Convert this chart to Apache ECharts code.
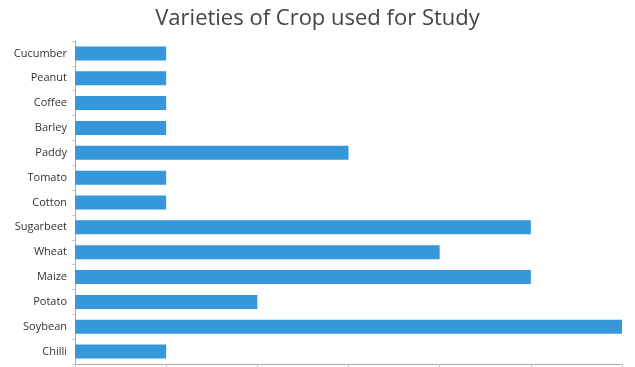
<!DOCTYPE html>
<html><head><meta charset="utf-8">
<script src="https://cdn.jsdelivr.net/npm/echarts@6/dist/echarts.min.js"></script>
<style>html,body{margin:0;padding:0;background:#fff}#c{width:635px;height:367px}</style>
</head><body><div id="c"></div>
<script>
const categories = ["Cucumber","Peanut","Coffee","Barley","Paddy","Tomato","Cotton","Sugarbeet","Wheat","Maize","Potato","Soybean","Chilli"];
const counts = [1,1,1,1,3,1,1,5,4,5,2,6,1];
const titleText = "Varieties of Crop used for Study";

const chart = echarts.init(document.getElementById('c'), null, {renderer:'canvas'});
chart.setOption({
  animation:false,
  title:{text:titleText,left:'center',top:3,textStyle:{fontFamily:'Open Sans',fontSize:22,fontWeight:'normal',color:'#444'}},
  grid:{left:75,right:13,top:41,bottom:3},
  xAxis:{type:'value',min:0,max:6,interval:1,
    axisLine:{show:true,lineStyle:{color:'#aaa',width:1}},
    axisTick:{show:true,length:3,lineStyle:{color:'#ccc'}},
    axisLabel:{show:false},splitLine:{show:false}},
  yAxis:{type:'category',inverse:true,data:categories,
    axisLine:{show:true,lineStyle:{color:'#aaa',width:1}},
    axisTick:{show:true,length:3,lineStyle:{color:'#ccc'}},
    axisLabel:{fontFamily:'Open Sans',fontSize:11,color:'#333',margin:8}},
  series:[{type:'bar',data:counts,barWidth:14,itemStyle:{color:'#3498db'}}]
});
</script></body></html>
